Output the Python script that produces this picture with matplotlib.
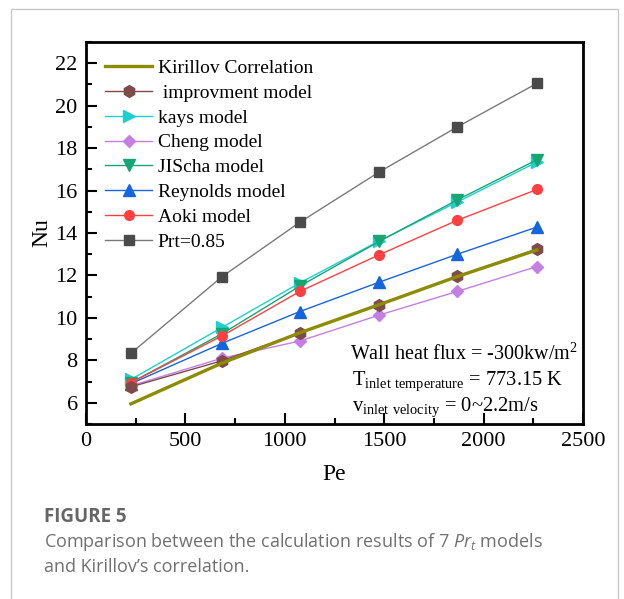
import matplotlib
matplotlib.use("Agg")
import matplotlib.pyplot as plt
from matplotlib.patches import Rectangle

plt.rcParams['font.family'] = ['Liberation Serif', 'DejaVu Serif']
plt.rcParams['mathtext.fontset'] = 'custom'
plt.rcParams['mathtext.rm'] = 'Liberation Serif'
plt.rcParams['mathtext.it'] = 'Open Sans:italic'
plt.rcParams['mathtext.bf'] = 'Liberation Serif:bold'

# ---- data ----
pe = [226, 684, 1076, 1474, 1868, 2268]
kirillov = [5.95, 7.87, 9.3, 10.62, 11.95, 13.2]
improvment = [6.75, 7.98, 9.3, 10.63, 11.96, 13.25]
kays = [7.1, 9.55, 11.65, 13.62, 15.46, 17.34]
cheng = [6.8, 8.1, 8.91, 10.13, 11.25, 12.42]
jischa = [6.95, 9.25, 11.5, 13.6, 15.56, 17.45]
reynolds = [6.9, 8.8, 10.3, 11.68, 13.0, 14.28]
aoki = [6.95, 9.15, 11.25, 12.97, 14.6, 16.05]
prt085 = [8.33, 11.94, 14.51, 16.87, 19.0, 21.05]

labels = ['Kirillov Correlation', ' improvment model', 'kays model', 'Cheng model',
          'JIScha model', 'Reynolds model', 'Aoki model', 'Prt=0.85']

fig = plt.figure(figsize=(6.24, 5.99), dpi=100)
ax = fig.add_axes([86/624, 1-424/599, (583-86)/624, (424-42)/599])

ms = 7
h_k, = ax.plot(pe, kirillov, color='#8c8c00', lw=2.4, zorder=5)
h_i, = ax.plot(pe, improvment, color='#7f4a4a', lw=1.0, marker='h', ms=ms+1.5, zorder=4)
h_ka, = ax.plot(pe, kays, color='#1ecfcf', lw=1.0, marker='>', ms=ms+1, zorder=3)
h_c, = ax.plot(pe, cheng, color='#c47fe3', lw=1.0, marker='D', ms=ms-1, zorder=3)
h_j, = ax.plot(pe, jischa, color='#17a673', lw=1.0, marker='v', ms=ms+1, zorder=3)
h_r, = ax.plot(pe, reynolds, color='#1565de', lw=1.0, marker='^', ms=ms+1, zorder=3)
h_a, = ax.plot(pe, aoki, color='#ff4040', lw=1.0, marker='o', ms=ms, zorder=3)
h_p, = ax.plot(pe, prt085, color='#7a7a7a', lw=1.0, marker='s', ms=ms-0.5,
               mfc='#4a4a4a', mec='#4a4a4a', zorder=3)

ax.set_xlim(0, 2500)
ax.set_ylim(5, 23)
ax.set_xticks([0, 500, 1000, 1500, 2000, 2500])
ax.set_xticks([250, 750, 1250, 1750, 2250], minor=True)
ax.set_yticks([6, 8, 10, 12, 14, 16, 18, 20, 22])
ax.set_yticks([5, 7, 9, 11, 13, 15, 17, 19, 21, 23], minor=True)
ax.tick_params(which='both', direction='in', width=1.5, labelsize=16, pad=6)
ax.tick_params(which='major', length=8)
ax.tick_params(which='minor', length=4)
for s in ax.spines.values():
    s.set_linewidth(2.0)

ax.set_xlabel('Pe', fontsize=17, labelpad=9)
ax.set_ylabel('Nu', fontsize=17, labelpad=2)

leg = ax.legend([h_k, h_i, h_ka, h_c, h_j, h_r, h_a, h_p], labels,
                loc='upper left', frameon=False, fontsize=14,
                handlelength=2.4, labelspacing=0.37, handletextpad=0.3,
                borderaxespad=0.0, bbox_to_anchor=(0.023, 0.975))

ax.text(0.532, 0.183, 'Wall heat flux = -300kw/m$^2$', fontsize=14.5, va='center',
        transform=ax.transAxes)
ax.text(0.536, 0.109, r'T$_{\mathrm{inlet\ temperature}}$ = 773.15 K', fontsize=14.8,
        va='center', transform=ax.transAxes)
ax.text(0.536, 0.043, r'v$_{\mathrm{inlet\ velocity}}$ = 0~2.2m/s', fontsize=14.8,
        va='center', transform=ax.transAxes)

# outer frame and caption
fig.patches.append(Rectangle((11/624, -0.1), (618-11)/624, 1.1 - 9/599,
                             transform=fig.transFigure, fill=False,
                             edgecolor='#c8c8c8', lw=1.0))
fig.text(44/624, 1-517/599, 'FIGURE 5', fontsize=13.5, fontweight='bold',
         color='#666666', family='Open Sans', va='center')
fig.text(44/624, 1-542/599, r'Comparison between the calculation results of 7 $\mathit{Pr}_{\mathit{t}}$ models',
         fontsize=13, color='#707070', family='Open Sans', va='center')
fig.text(44/624, 1-567/599, 'and Kirillov\u2019s correlation.', fontsize=13,
         color='#707070', family='Open Sans', va='center')

fig.savefig('out.png', dpi=100)
